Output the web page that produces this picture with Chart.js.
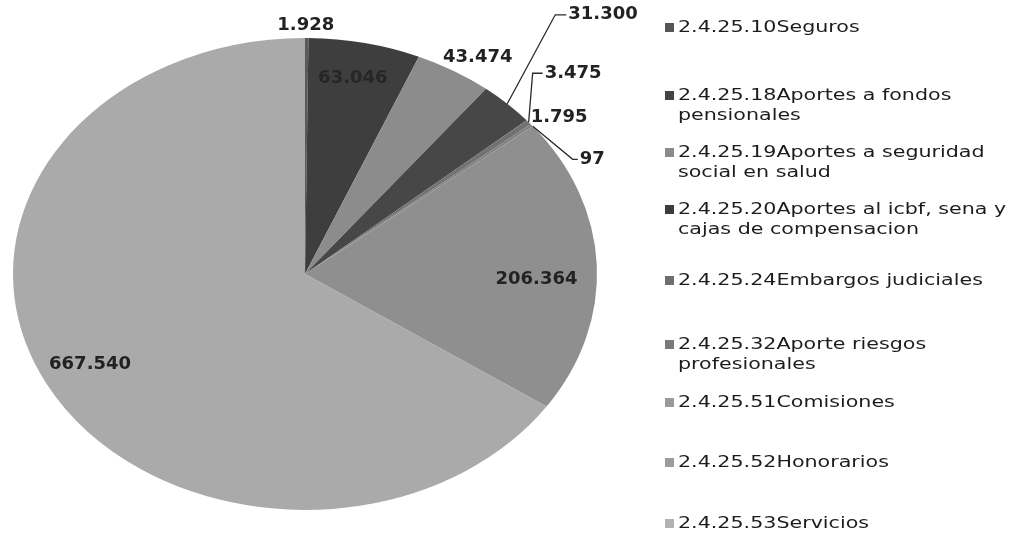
<!DOCTYPE html>
<html>
<head>
<meta charset="utf-8">
<script src="https://cdn.jsdelivr.net/npm/chart.js@4/dist/chart.umd.min.js"></script>
<style>
  html, body { margin: 0; padding: 0; background: #fff; }
  #wrap { position: relative; width: 1027px; height: 535px; overflow: hidden; }
  #c { position: absolute; left: 0; top: 0; }
  .leg { position: absolute; left: 665px; display: flex; align-items: flex-start;
         font-family: "DejaVu Sans", sans-serif; font-size: 16.5px; line-height: 20px; color: #1c1c1c; }
  .leg .box { width: 9px; height: 9px; margin-top: 6px; margin-right: 4px; flex: none; }
  .leg .txt { white-space: pre; display: inline-block; transform: scaleX(1.25); transform-origin: 0 50%; }
</style>
</head>
<body>
<div id="wrap">
  <canvas id="c" width="1027" height="535"></canvas>
</div>
<script>
// ---- data ----
const categories = [
  "2.4.25.10Seguros",
  "2.4.25.18Aportes a fondos\npensionales",
  "2.4.25.19Aportes a seguridad\nsocial en salud",
  "2.4.25.20Aportes al icbf, sena y\ncajas de compensacion",
  "2.4.25.24Embargos judiciales",
  "2.4.25.32Aporte riesgos\nprofesionales",
  "2.4.25.51Comisiones",
  "2.4.25.52Honorarios",
  "2.4.25.53Servicios"
];
const values = [1928, 63046, 43474, 31300, 3475, 1795, 97, 206364, 667540];

// ---- styles / layout ----
const sliceColors = ["#5a5a5a", "#3e3e3e", "#8c8c8c", "#474747", "#727272", "#808080", "#999999", "#8f8f8f", "#aaaaaa"];
const legendColors = ["#555555", "#444444", "#8a8a8a", "#3c3c3c", "#6e6e6e", "#7a7a7a", "#9a9a9a", "#9c9c9c", "#b2b2b2"];
const legendTop = [17, 85, 142, 199, 270, 334, 392, 452, 513];
const SX = 292 / 236; // horizontal stretch of the pie (ellipse)
// label placement: in = inside at radius fraction f; out = offset from rim point
const labelPos = [
  { mode: "out", dx: -1, dy: -13, align: "center" },
  { mode: "in", f: 0.85, dx: -3, dy: 1, align: "center" },
  { mode: "out", dx: 24, dy: -14, align: "center" },
  { mode: "out", dx: 61, dy: -89, align: "left", ex: -13 },
  { mode: "out", dx: 16, dy: -49, align: "left", ex: -12 },
  { mode: "out", dx: -1, dy: -8, align: "left" },
  { mode: "out", dx: 47, dy: 33, align: "left", ex: -7 },
  { mode: "in", f: 0.79, dx: 1, dy: 13, align: "center" },
  { mode: "in", f: 0.833, dx: 0, dy: -2, align: "center" }
];

function fmt(v) { return String(v).replace(/\B(?=(\d{3})+(?!\d))/g, "."); }

const ellipsePlugin = {
  id: "ellipse",
  beforeDatasetsDraw(chart) {
    const a = chart.getDatasetMeta(0).data[0];
    const ctx = chart.ctx;
    ctx.save();
    ctx.translate(a.x, a.y);
    ctx.scale(SX, 1);
    ctx.translate(-a.x, -a.y);
  },
  afterDatasetsDraw(chart) { chart.ctx.restore(); }
};

const labelPlugin = {
  id: "labels",
  afterDraw(chart) {
    const ctx = chart.ctx;
    const arcs = chart.getDatasetMeta(0).data;
    ctx.save();
    ctx.font = "bold 18px 'DejaVu Sans'";
    ctx.textBaseline = "middle";
    arcs.forEach((arc, i) => {
      const p = arc.getProps(["x", "y", "startAngle", "endAngle", "outerRadius"], true);
      const mid = (p.startAngle + p.endAngle) / 2;
      const rx = p.outerRadius * SX, ry = p.outerRadius;
      const L = labelPos[i];
      let tx, ty;
      if (L.mode === "in") {
        tx = p.x + rx * L.f * Math.cos(mid) + L.dx;
        ty = p.y + ry * L.f * Math.sin(mid) + L.dy;
      } else {
        const rimX = p.x + rx * Math.cos(mid), rimY = p.y + ry * Math.sin(mid);
        tx = rimX + L.dx; ty = rimY + L.dy;
        if (L.ex !== undefined) {
          ctx.strokeStyle = "#2a2a2a";
          ctx.lineWidth = 1.3;
          ctx.beginPath();
          ctx.moveTo(rimX, rimY);
          ctx.lineTo(tx + L.ex, ty);
          ctx.lineTo(tx - 2, ty);
          ctx.stroke();
        }
      }
      ctx.fillStyle = i === 1 ? "#262626" : "#222222";
      ctx.textAlign = L.align;
      ctx.fillText(fmt(values[i]), tx, ty);
    });
    ctx.restore();
  }
};

new Chart(document.getElementById("c"), {
  type: "pie",
  data: {
    labels: categories,
    datasets: [{
      data: values,
      backgroundColor: sliceColors,
      borderWidth: 0,
      clip: false
    }]
  },
  options: {
    responsive: false,
    animation: false,
    layout: { padding: { left: 13, right: 430, top: 38, bottom: 25 } },
    plugins: { legend: { display: false }, tooltip: { enabled: false } }
  },
  plugins: [ellipsePlugin, labelPlugin]
});

// legend (HTML)
const wrap = document.getElementById("wrap");
categories.forEach((c, i) => {
  const d = document.createElement("div");
  d.className = "leg";
  d.style.top = legendTop[i] + "px";
  const b = document.createElement("div");
  b.className = "box";
  b.style.background = legendColors[i];
  const t = document.createElement("div");
  t.className = "txt";
  t.textContent = c;
  d.appendChild(b); d.appendChild(t);
  wrap.appendChild(d);
});
</script>
</body>
</html>
